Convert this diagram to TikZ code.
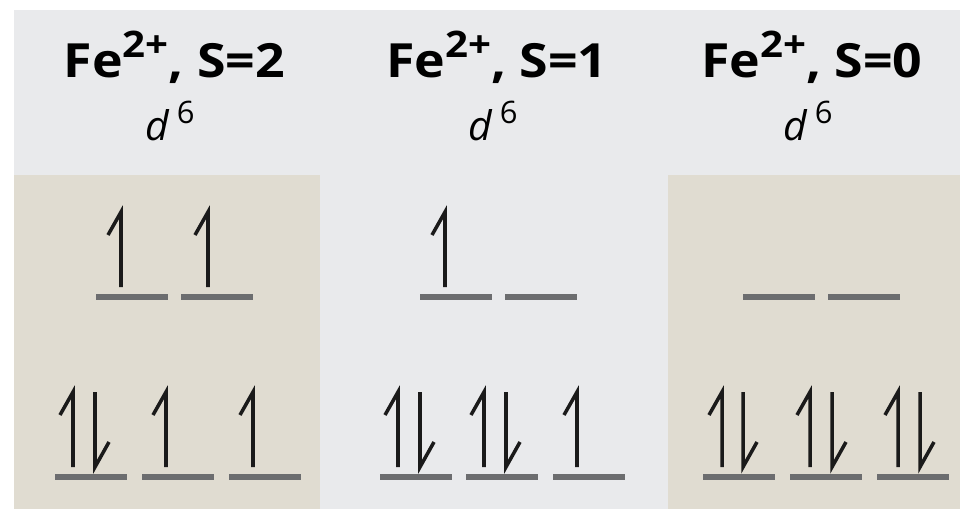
\documentclass[tikz,border=0pt]{standalone}
\usepackage{fontspec}
\setmainfont{Open Sans}
\usepackage{tikz}

\definecolor{panelgrey}{RGB}{233,234,236}
\definecolor{panelbeige}{RGB}{224,220,209}
\definecolor{levelgrey}{RGB}{108,109,111}
\definecolor{spinblack}{RGB}{26,26,26}

\newcommand{\ionsup}[1]{\raisebox{14pt}{\fontsize{26}{26}\selectfont #1}}
\newcommand{\dsix}{\textit{d}\hspace{5pt}\raisebox{12pt}{\fontsize{22}{22}\selectfont 6}}

\tikzset{
  heading/.style={anchor=base, inner sep=0pt, xscale=1.1, font=\fontsize{33.5}{40}\selectfont\bfseries},
  config/.style={anchor=base, inner sep=0pt, font=\fontsize{29}{34}\selectfont},
  level/.style={draw=levelgrey, line width=4pt},
  spin/.style={draw=spinblack, line width=2.5pt, line join=miter},
  spinup/.pic={\draw[spin] (0,0) -- (0,-75) -- (-13,-52);},
  spindown/.pic={\draw[spin] (0,-75) -- (0,0) -- (14,-25);}
}

\begin{document}
\begin{tikzpicture}[x=0.025cm, y=-0.025cm]
  % background and panels
  \fill[white] (0,0) rectangle (960,509);
  \fill[panelgrey] (14,10) rectangle (960,509);
  \fill[panelbeige] (14,175) rectangle (320,509);
  \fill[panelbeige] (668,175) rectangle (960,509);

  % headings
  \node[heading] (hstwo) at (174.5,77) {Fe\ionsup{2+}, S=2};
  \node[heading] (hsone) at (497,77) {Fe\ionsup{2+}, S=1};
  \node[heading] (hszero) at (812,77) {Fe\ionsup{2+}, S=0};
  \node[config] (dtwo) at (170,140) {\dsix};
  \node[config] (done) at (493,140) {\dsix};
  \node[config] (dzero) at (808,140) {\dsix};

  % upper levels
  \foreach \x in {96,181,420,505,743,828}
    \draw[level] (\x,297) -- ++(72,0);
  % lower levels
  \foreach \x in {55,142,229,380,466,553,703,790,877}
    \draw[level] (\x,477) -- ++(72,0);

  % upper electrons
  \foreach \x in {121,208,445}
    \pic at (\x,287) {spinup};
  % lower electrons
  \foreach \x in {73,166,253,398,484,577,722,810,898}
    \pic at (\x,467) {spinup};
  \foreach \x in {95,420,506,743,832,920}
    \pic at (\x,467) {spindown};
\end{tikzpicture}
\end{document}
